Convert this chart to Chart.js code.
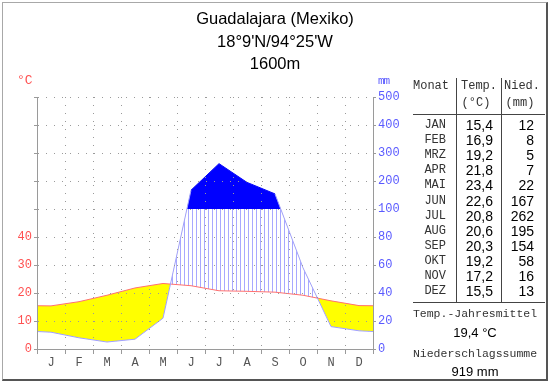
<!DOCTYPE html>
<html>
<head>
<meta charset="utf-8">
<script src="https://cdn.jsdelivr.net/npm/chart.js@4.4.1/dist/chart.umd.min.js"></script>
<style>
  body { margin: 0; background: #fff; }
  #wrap { position: relative; width: 550px; height: 384px; overflow: hidden; font-family: "Liberation Sans", Arial, sans-serif; }
  #chart { position: absolute; left: 0; top: 0; }
  .t { position: absolute; white-space: nowrap; line-height: 1; }
  .mono { font-family: "Liberation Mono", "Courier New", monospace; font-size: 12px; color: #333; }
  .num { font-family: "Liberation Sans", Arial, sans-serif; font-size: 14px; color: #000; }
  .ln { position: absolute; background: #444; }
  #frame { position: absolute; left: 2px; top: 2px; width: 543px; height: 376px;
    border-top: 1px solid #a8a8a8; border-left: 1px solid #a8a8a8;
    border-right: 2px solid #555; border-bottom: 2px solid #555; pointer-events: none; }
</style>
</head>
<body>
<div id="wrap">
  <canvas id="chart" width="550" height="384"></canvas>
  <div id="frame"></div>
</div>
<script>
const months = ['J', 'F', 'M', 'A', 'M', 'J', 'J', 'A', 'S', 'O', 'N', 'D'];
const monthNames = ['JAN', 'FEB', 'MRZ', 'APR', 'MAI', 'JUN', 'JUL', 'AUG', 'SEP', 'OKT', 'NOV', 'DEZ'];
const temps = [15.4, 16.9, 19.2, 21.8, 23.4, 22.6, 20.8, 20.6, 20.3, 19.2, 17.2, 15.5];
const precip = [12, 8, 5, 7, 22, 167, 262, 195, 154, 58, 16, 13];
const tempTicks = [0, 10, 20, 30, 40];
const precipTicks = [0, 20, 40, 60, 80, 100, 200, 300, 400, 500];

// 10 °C = 20 mm up to 100 mm, above that 10 °C = 100 mm
function scaleP(p) {
  return p <= 100 ? p / 2 : 50 + (p - 100) / 10;
}

// points at month centres, edges use the Dec/Jan mean
function series(vals, f) {
  const edge = f((vals[0] + vals[11]) / 2);
  const pts = vals.map((v, i) => ({ x: i + 0.5, y: f(v) }));
  return [{ x: 0, y: edge }, ...pts, { x: 12, y: edge }];
}

const pc = document.createElement('canvas');
pc.width = 4; pc.height = 4;
const pctx = pc.getContext('2d');
pctx.fillStyle = '#a8a8ff';
pctx.fillRect(0, 0, 1, 4);
const hatch = pctx.createPattern(pc, 'repeat');

const precipData = series(precip, scaleP);
const tempData = series(temps, t => t);
const wetLine = precipData.map(p => ({ x: p.x, y: scaleP(100) }));

const gridGrey = '#9a9a9a';
const monoFont = { family: 'Liberation Mono', size: 12 };

new Chart(document.getElementById('chart'), {
  type: 'line',
  data: {
    datasets: [
      {
        label: 'Niederschlag',
        data: precipData,
        borderColor: '#a0a0ff',
        borderWidth: 1,
        pointRadius: 0,
        segment: {
          borderColor: c => (c.p0.parsed.y >= 50 && c.p1.parsed.y >= 50) ? '#0000ff' : '#a0a0ff'
        },
        fill: { target: 2, above: '#0000ff', below: 'rgba(0,0,0,0)' }
      },
      {
        label: 'Temperatur',
        data: tempData,
        borderColor: '#ff7070',
        borderWidth: 1,
        pointRadius: 0,
        fill: { target: 0, above: '#ffff00', below: hatch }
      },
      {
        label: '100 mm',
        data: wetLine,
        borderColor: 'rgba(0,0,0,0)',
        borderWidth: 0,
        pointRadius: 0,
        fill: false
      }
    ]
  },
  options: {
    responsive: false,
    animation: false,
    layout: { padding: { top: 97, left: 0, right: 0, bottom: 0 } },
    plugins: { legend: { display: false }, tooltip: { enabled: false } },
    scales: {
      x: {
        type: 'linear',
        min: 0,
        max: 12,
        afterBuildTicks: s => {
          s.ticks = [];
          for (let v = 0; v <= 24; v++) s.ticks.push({ value: v / 2 });
        },
        afterFit: s => { s.height = 35; },
        ticks: {
          autoSkip: false,
          maxRotation: 0,
          padding: 2,
          color: '#555',
          font: monoFont,
          callback: v => (v % 1 ? months[Math.floor(v)] : '')
        },
        grid: {
          z: 1,
          color: c => (c.tick && c.tick.value % 1 === 0 && c.tick.value > 0 && c.tick.value < 12) ? gridGrey : 'rgba(0,0,0,0)',
          tickColor: c => (c.tick && c.tick.value % 1 === 0) ? gridGrey : 'rgba(0,0,0,0)',
          tickLength: 5,
          tickBorderDash: [],
          borderDash: [1, 7]
        },
        border: { color: gridGrey, dash: [1, 7], z: 2 }
      },
      y: {
        type: 'linear',
        position: 'left',
        min: 0,
        max: 90,
        afterFit: s => { s.width = 37; },
        ticks: {
          stepSize: 10,
          padding: 2,
          color: '#ff5050',
          font: monoFont,
          callback: v => (tempTicks.includes(v) ? String(v) : '')
        },
        grid: {
          z: 1,
          color: c => (c.tick && c.tick.value > 0) ? gridGrey : 'rgba(0,0,0,0)',
          tickColor: gridGrey,
          tickLength: 3,
          tickBorderDash: [],
          borderDash: [1, 7]
        },
        border: { color: gridGrey, dash: [1, 7], z: 2 }
      },
      y2: {
        type: 'linear',
        position: 'right',
        min: 0,
        max: 90,
        afterFit: s => { s.width = 177; },
        ticks: {
          stepSize: 10,
          padding: 2,
          color: '#5a5aff',
          font: monoFont,
          callback: v => String(precipTicks[Math.round(v / 10)])
        },
        grid: {
          drawOnChartArea: false,
          tickColor: gridGrey,
          tickLength: 3,
          tickBorderDash: []
        },
        border: { color: gridGrey, z: 2 }
      }
    }
  }
});

// texts around the chart and the table
const wrap = document.getElementById('wrap');
function label(text, x, y, cls, align, style) {
  const d = document.createElement('div');
  d.className = 't ' + cls;
  d.textContent = text;
  d.style.left = x + 'px';
  d.style.top = y + 'px';
  const tx = align === 'center' ? '-50%' : align === 'right' ? '-100%' : '0';
  d.style.transform = `translate(${tx},-50%)`;
  if (style) Object.assign(d.style, style);
  wrap.appendChild(d);
}
function line(x, y, w, h) {
  const d = document.createElement('div');
  d.className = 'ln';
  Object.assign(d.style, { left: x + 'px', top: y + 'px', width: w + 'px', height: h + 'px' });
  wrap.appendChild(d);
}

const titleStyle = { fontSize: '16.5px', color: '#000' };
label('Guadalajara (Mexiko)', 275, 18, '', 'center', titleStyle);
label("18°9'N/94°25'W", 275, 41, '', 'center', titleStyle);
label('1600m', 275, 63, '', 'center', titleStyle);
label('°C', 17, 80, 'mono', 'left', { color: '#ff5050', fontSize: '13px' });
label('mm', 378, 81, 'mono', 'left', { color: '#5a5aff', fontSize: '11px', letterSpacing: '-1px' });

// table
line(456, 78, 1, 225);
line(501, 78, 1, 225);
line(413, 114, 132, 1);
line(413, 302, 132, 1);
label('Monat', 413, 86, 'mono', 'left');
label('Temp.', 461, 86, 'mono', 'left');
label('Nied.', 504, 86, 'mono', 'left');
label('(°C)', 476, 103, 'mono', 'center');
label('(mm)', 520, 103, 'mono', 'center');
const fmt = v => v.toFixed(1).replace('.', ',');
monthNames.forEach((m, i) => {
  const y = 125 + i * 15.1;
  label(m, 446, y, 'mono', 'right');
  label(fmt(temps[i]), 493, y, 'num', 'right');
  label(String(precip[i]), 534, y, 'num', 'right');
});
const meanT = temps.reduce((a, b) => a + b, 0) / temps.length;
const sumP = precip.reduce((a, b) => a + b, 0);
label('Temp.-Jahresmittel', 475, 314, 'mono', 'center', { fontSize: '11.5px' });
label(fmt(meanT) + ' °C', 475, 332, 'num', 'center', { fontSize: '13px' });
label('Niederschlagssumme', 475, 354, 'mono', 'center', { fontSize: '11.5px' });
label(sumP + ' mm', 475, 371, 'num', 'center', { fontSize: '13px' });
</script>
</body>
</html>
